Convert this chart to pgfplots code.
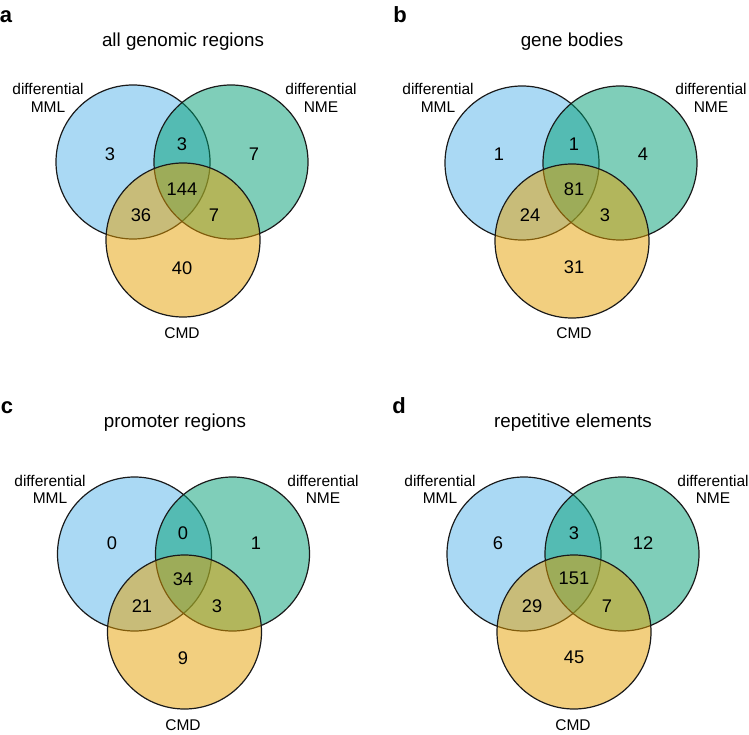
\documentclass[border=0pt]{standalone}
\usepackage{fontspec}
\setmainfont{Liberation Sans}
\usepackage{pgfplots}
\pgfplotsset{compat=1.18}
\definecolor{mml}{HTML}{56B4E9}
\definecolor{nme}{HTML}{009E73}
\definecolor{cmd}{HTML}{E69F00}
\definecolor{edge}{HTML}{1A1A1A}
\begin{document}
\begin{tikzpicture}
\begin{axis}[x=1pt, y=1pt, y dir=reverse,
  xmin=0, xmax=749, ymin=0, ymax=735,
  hide axis, clip=false, scale only axis]
% circles: differential MML
\addplot[only marks, mark=*, mark size=77pt,
  mark options={draw=edge, line width=1.2pt, fill=mml, fill opacity=0.5, draw opacity=1}]
  coordinates {(133,162) (522,163) (134.5,554) (524,554)};
% circles: differential NME
\addplot[only marks, mark=*, mark size=77pt,
  mark options={draw=edge, line width=1.2pt, fill=nme, fill opacity=0.5, draw opacity=1}]
  coordinates {(231,162) (620,163) (232.5,554) (622,554)};
% circles: CMD
\addplot[only marks, mark=*, mark size=77pt,
  mark options={draw=edge, line width=1.2pt, fill=cmd, fill opacity=0.5, draw opacity=1}]
  coordinates {(183,240) (572,241) (184.5,632) (574,632)};
% counts
\addplot[draw=none, mark=none, nodes near coords, point meta=explicit symbolic,
  nodes near coords style={anchor=center, inner sep=0pt, text=black, font=\fontsize{18.3}{21}\selectfont}]
  table[meta=t] {
x y t
110 154 3
182 144 3
254 154 7
182 189 144
141 215 36
214 215 7
182 268 40
499 154 1
574 144 1
643 154 4
574 189 81
530 215 24
605 215 3
574 267 31
112 543 0
183 533 0
256 543 1
183 579 34
142 606 21
217 606 3
183 658 9
498 543 6
574 533 3
643 543 12
574 578 151
532 606 29
607 606 7
574 657 45
};
% set labels
\addplot[draw=none, mark=none, nodes near coords, point meta=explicit symbolic,
  nodes near coords style={anchor=base, inner sep=0pt, text=black, font=\fontsize{15.5}{18}\selectfont}]
  table[meta=t, col sep=comma] {
x,y,t
48,95,differential
48,113,MML
321,95,differential
321,113,NME
182,338,CMD
438,95,differential
438,113,MML
711,95,differential
711,113,NME
574,338,CMD
50,486,differential
50,503,MML
323,486,differential
323,503,NME
183,730,CMD
440,486,differential
440,503,MML
713,486,differential
713,503,NME
573,730,CMD
};
% titles
\addplot[draw=none, mark=none, nodes near coords, point meta=explicit symbolic,
  nodes near coords style={anchor=base, inner sep=0pt, text=black, font=\fontsize{18.8}{22}\selectfont}]
  table[meta=t, col sep=comma] {
x,y,t
183,47,all genomic regions
572,47,gene bodies
175,427,promoter regions
573,427,repetitive elements
};
% panel letters
\addplot[draw=none, mark=none, nodes near coords, point meta=explicit symbolic,
  nodes near coords style={anchor=base, inner sep=0pt, text=black, font=\fontsize{22}{26}\bfseries}]
  table[meta=t, col sep=comma] {
x,y,t
6,23,a
400,23,b
7,413,c
399,413,d
};
\end{axis}
\pgfresetboundingbox
\useasboundingbox (current axis.south west) rectangle (current axis.north east);
\end{tikzpicture}
\end{document}
